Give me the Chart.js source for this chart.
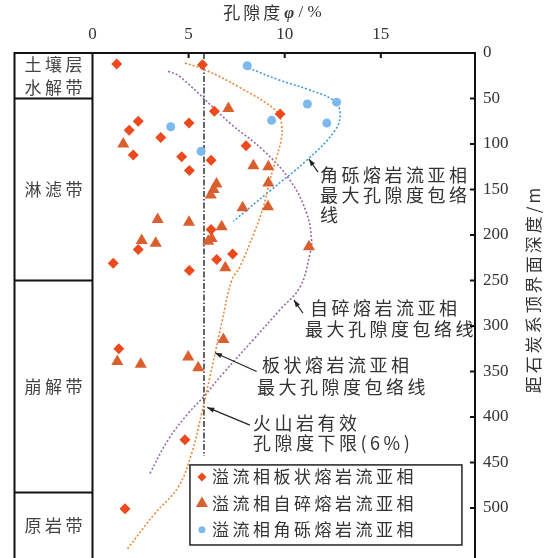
<!DOCTYPE html>
<html>
<head>
<meta charset="utf-8">
<script src="https://cdn.jsdelivr.net/npm/chart.js@4.4.1/dist/chart.umd.min.js"></script>
<style>
html, body { margin: 0; padding: 0; background: #fff; }
canvas { display: block; }
</style>
</head>
<body>
<canvas id="grafico" width="549" height="558"></canvas>
<script>
// Datos: x = porosidad (%), y = profundidad (m)
const xTicks = [0, 5, 10, 15];
const yTicks = [0, 50, 100, 150, 200, 250, 300, 350, 400, 450, 500];

// 溢流相板状熔岩流亚相
const banX = [1.26, 5.72, 6.34, 9.76, 2.38, 5.02, 1.91, 3.55, 7.99, 2.12, 4.64, 6.17, 5.04, 6.17, 7.29, 2.38, 6.46, 1.08, 5.04, 1.37, 4.81, 1.69];
const banY = [12, 13, 64, 67, 75, 77, 85, 93, 102, 112, 114, 118, 129, 194, 221, 216, 227, 231, 239, 325, 425, 501];
// 溢流相自碎熔岩流亚相
const ziX = [7.07, 1.6, 8.37, 9.15, 9.15, 6.45, 6.3, 6.15, 7.81, 9.13, 3.39, 5.02, 6.72, 2.56, 3.29, 6.02, 6.2, 11.26, 6.91, 6.81, 1.29, 2.51, 4.98, 5.5];
const ziY = [61, 100, 124, 125, 143, 144, 150, 156, 170, 169, 183, 186, 191, 206, 209, 207, 204, 213, 236, 315, 339, 342, 334, 346];
// 溢流相角砾熔岩流亚相
const jiaoX = [8.05, 11.18, 12.7, 9.32, 12.19, 4.07, 5.65];
const jiaoY = [14, 56, 54, 74, 77, 81, 108];

// envolventes de porosidad maxima
const envBanX = [4.81, 5.8, 7.67, 9.58, 9.84, 9.81, 9.58, 9.23, 8.89, 8.4, 7.67, 7.24, 6.72, 6.11, 5.68, 5.16, 4.46, 3.25, 1.78];
const envBanY = [11, 18, 38, 64, 79, 96, 114, 140, 169, 198, 235, 250, 297, 356, 396, 440, 477, 506, 546];
const envZiX = [3.94, 4.55, 7.15, 8.89, 10.28, 11.14, 11.4, 11.32, 10.8, 9.76, 8.37, 6.8, 5.77, 4.98, 3.94, 2.99];
const envZiY = [20, 26, 77, 107, 140, 176, 206, 220, 257, 282, 315, 352, 378, 396, 425, 462];
const envJiaoX = [7.93, 9.76, 11.2, 12.53, 12.88, 12.62, 11.14, 9.2, 7.33];
const envJiaoY = [15, 30, 40, 52, 65, 85, 118, 152, 185];
// limite inferior de porosidad efectiva
const limX = [5.8, 5.8];
const limY = [0, 443];

const zonaNombres = [['土壤层', '水解带'], ['淋滤带'], ['崩解带'], ['原岩带']];
const zonaLimites = [0, 50, 250, 483, 555];

const leyendaTextos = ['溢流相板状熔岩流亚相', '溢流相自碎熔岩流亚相', '溢流相角砾熔岩流亚相'];

// notas con flecha: lineas de texto [texto, x, y], cola y punta de la flecha
const notas = [
    { lineas: [['角砾熔岩流亚相', 11.84, 134], ['最大孔隙度包络', 11.84, 156], ['线', 11.84, 178]], cola: [11.73, 131], punta: [11.26, 116.5] },
    { lineas: [['自碎熔岩流亚相', 11.32, 280], ['最大孔隙度包络线', 11.06, 303]], cola: [10.95, 286], punta: [10.48, 271.5] },
    { lineas: [['板状熔岩流亚相', 8.82, 343], ['最大孔隙度包络线', 8.56, 367]], cola: [8.54, 350], punta: [6.37, 329.5] },
    { lineas: [['火山岩有效', 8.35, 407], ['孔隙度下限(6%)', 8.35, 429]], cola: [8.19, 409], punta: [5.97, 389.5] }
];

const CJK = '"Noto Sans CJK SC", sans-serif';
const SERIF = '"Liberation Serif", serif';
const colorTexto = '#333';

function pares(xs, ys) {
    return xs.map((x, i) => ({ x: x, y: ys[i] }));
}

function escribir(ctx, t, x, y, size, espacio, align) {
    ctx.font = size + 'px ' + CJK;
    ctx.letterSpacing = espacio + 'px';
    ctx.textAlign = align || 'left';
    ctx.textBaseline = 'middle';
    ctx.fillText(t, align === 'center' ? x + espacio / 2 : x, y);
}

function flecha(ctx, x1, y1, x2, y2) {
    const ang = Math.atan2(y2 - y1, x2 - x1);
    ctx.beginPath();
    ctx.moveTo(x1, y1);
    ctx.lineTo(x2, y2);
    ctx.stroke();
    ctx.beginPath();
    ctx.moveTo(x2, y2);
    ctx.lineTo(x2 - 7 * Math.cos(ang) + 2.5 * Math.sin(ang), y2 - 7 * Math.sin(ang) - 2.5 * Math.cos(ang));
    ctx.lineTo(x2 - 7 * Math.cos(ang) - 2.5 * Math.sin(ang), y2 - 7 * Math.sin(ang) + 2.5 * Math.cos(ang));
    ctx.closePath();
    ctx.fill();
}

const estilos = [
    { pointStyle: 'rectRot', color: '#ec4a1c', radius: 5.5, legendRadius: 4.5 },
    { pointStyle: 'triangle', color: '#d9602e', radius: 7, legendRadius: 7 },
    { pointStyle: 'circle', color: '#7cb9ec', radius: 4.5, legendRadius: 3.5 }
];

const decoracion = {
    id: 'decoracion',
    afterDraw(chart) {
        const ctx = chart.ctx;
        const { left, right, top, bottom } = chart.chartArea;
        const xs = chart.scales.x, ys = chart.scales.y;
        const colIzq = 14.5;
        ctx.save();

        // columna de zonas
        ctx.strokeStyle = '#111';
        ctx.lineWidth = 2;
        ctx.beginPath();
        ctx.moveTo(colIzq, bottom + 2);
        ctx.lineTo(colIzq, top);
        ctx.lineTo(left, top);
        ctx.moveTo(left, top);
        ctx.lineTo(left, bottom + 2);
        zonaLimites.slice(1, -1).forEach(d => {
            const y = ys.getPixelForValue(d);
            ctx.moveTo(colIzq, y);
            ctx.lineTo(left, y);
        });
        ctx.stroke();

        ctx.fillStyle = '#444';
        zonaNombres.forEach((nombres, i) => {
            const yc = (ys.getPixelForValue(zonaLimites[i]) + ys.getPixelForValue(zonaLimites[i + 1])) / 2;
            nombres.forEach((t, k) => {
                escribir(ctx, t, (colIzq + left) / 2, yc + (k - (nombres.length - 1) / 2) * 23, 17, 3.5, 'center');
            });
        });

        // marcas hacia dentro
        ctx.beginPath();
        xTicks.slice(1).forEach(v => {
            const x = xs.getPixelForValue(v);
            ctx.moveTo(x, top);
            ctx.lineTo(x, top + 5);
        });
        yTicks.slice(1).forEach(v => {
            const y = ys.getPixelForValue(v);
            ctx.moveTo(right, y);
            ctx.lineTo(right - 5, y);
        });
        ctx.stroke();

        // titulo del eje x: 孔隙度φ/%
        ctx.fillStyle = colorTexto;
        ctx.textBaseline = 'middle';
        ctx.textAlign = 'left';
        ctx.font = '17px ' + CJK;
        ctx.letterSpacing = '3px';
        const w1 = ctx.measureText('孔隙度').width;
        ctx.font = 'italic bold 17px ' + SERIF;
        ctx.letterSpacing = '0px';
        const w2 = ctx.measureText('φ').width;
        ctx.font = '17px ' + SERIF;
        const w3 = ctx.measureText(' / %').width;
        let tx = 272 - (w1 + w2 + w3) / 2;
        const ty = 13;
        escribir(ctx, '孔隙度', tx, ty, 17, 3);
        tx += w1 + 1;
        ctx.font = 'italic bold 17px ' + SERIF;
        ctx.letterSpacing = '0px';
        ctx.fillText('φ', tx, ty + 1);
        tx += w2;
        ctx.font = '17px ' + SERIF;
        ctx.fillText(' / %', tx, ty);

        // titulo del eje y (girado)
        ctx.save();
        ctx.translate(534, ys.getPixelForValue(261));
        ctx.rotate(-Math.PI / 2);
        escribir(ctx, '距石炭系顶界面深度/m', 0, 0, 17, 3, 'center');
        ctx.restore();

        // notas con flechas
        ctx.strokeStyle = '#222';
        ctx.fillStyle = '#222';
        ctx.lineWidth = 1.2;
        notas.forEach(n => {
            flecha(ctx, xs.getPixelForValue(n.cola[0]), ys.getPixelForValue(n.cola[1]),
                xs.getPixelForValue(n.punta[0]), ys.getPixelForValue(n.punta[1]));
            ctx.fillStyle = colorTexto;
            n.lineas.forEach(l => {
                escribir(ctx, l[0], xs.getPixelForValue(l[1]), ys.getPixelForValue(l[2]), 18, 3.5);
            });
            ctx.fillStyle = '#222';
        });

        // leyenda
        const lx0 = xs.getPixelForValue(5.07), lx1 = xs.getPixelForValue(19.22);
        const ly0 = ys.getPixelForValue(452.7), ly1 = ys.getPixelForValue(540.7);
        ctx.fillStyle = '#fff';
        ctx.fillRect(lx0, ly0, lx1 - lx0, ly1 - ly0);
        ctx.strokeStyle = '#222';
        ctx.lineWidth = 1.5;
        ctx.strokeRect(lx0, ly0, lx1 - lx0, ly1 - ly0);
        const filas = [466, 495, 524];
        leyendaTextos.forEach((t, i) => {
            const y = ys.getPixelForValue(filas[i]);
            ctx.fillStyle = estilos[i].color;
            Chart.helpers.drawPoint(ctx, { pointStyle: estilos[i].pointStyle, radius: estilos[i].legendRadius, rotation: 0, borderWidth: 0 }, lx0 + 12, y);
            ctx.fillStyle = colorTexto;
            escribir(ctx, t, lx0 + 22, y, 17, 3.5);
        });
        ctx.restore();
    }
};

function puntos(label, xsArr, ysArr, est) {
    return {
        label: label,
        data: pares(xsArr, ysArr),
        pointStyle: est.pointStyle,
        pointRadius: est.radius,
        backgroundColor: est.color,
        borderColor: est.color,
        borderWidth: 0,
        order: 0
    };
}

function envolvente(label, xsArr, ysArr, color, dash) {
    return {
        label: label,
        data: pares(xsArr, ysArr),
        showLine: true,
        pointRadius: 0,
        borderColor: color,
        borderWidth: 1.6,
        borderDash: dash,
        tension: 0.4,
        fill: false,
        order: 1
    };
}

// quita el margen que Chart.js reserva para las etiquetas extremas
function sinRelleno(s) {
    s.paddingTop = 0;
    s.paddingBottom = 0;
    s.paddingLeft = 0;
    s.paddingRight = 0;
}

const ctx = document.getElementById('grafico').getContext('2d');
new Chart(ctx, {
    type: 'scatter',
    data: {
        datasets: [
            puntos(leyendaTextos[0], banX, banY, estilos[0]),
            puntos(leyendaTextos[1], ziX, ziY, estilos[1]),
            puntos(leyendaTextos[2], jiaoX, jiaoY, estilos[2]),
            envolvente('板状熔岩流亚相最大孔隙度包络线', envBanX, envBanY, '#e9883a', [2, 2]),
            envolvente('自碎熔岩流亚相最大孔隙度包络线', envZiX, envZiY, '#9a68a8', [2, 2]),
            envolvente('角砾熔岩流亚相最大孔隙度包络线', envJiaoX, envJiaoY, '#3f9ad8', [2, 2]),
            Object.assign(envolvente('火山岩有效孔隙度下限(6%)', limX, limY, '#222', [6, 2, 1.5, 2]), { tension: 0, borderWidth: 1.4 })
        ]
    },
    options: {
        responsive: false,
        animation: false,
        layout: { autoPadding: false, padding: { left: 92.5, right: 0, top: 0, bottom: 0 } },
        plugins: {
            legend: { display: false },
            tooltip: { enabled: false }
        },
        scales: {
            x: {
                type: 'linear',
                position: 'top',
                min: 0,
                max: 19.9,
                afterFit: s => { s.height = 53; sinRelleno(s); },
                afterBuildTicks: s => { s.ticks = xTicks.map(v => ({ value: v })); },
                ticks: { padding: 8, color: colorTexto, font: { family: SERIF, size: 17 } },
                grid: { drawOnChartArea: false, drawTicks: false },
                border: { color: '#111', width: 2 }
            },
            y: {
                type: 'linear',
                position: 'right',
                reverse: true,
                min: 0,
                max: 555,
                afterFit: s => { s.width = 74; sinRelleno(s); },
                afterBuildTicks: s => { s.ticks = yTicks.map(v => ({ value: v })); },
                ticks: { padding: 8, color: colorTexto, font: { family: SERIF, size: 17 } },
                grid: { drawOnChartArea: false, drawTicks: false },
                border: { color: '#111', width: 2 }
            }
        }
    },
    plugins: [decoracion]
});
</script>
</body>
</html>
